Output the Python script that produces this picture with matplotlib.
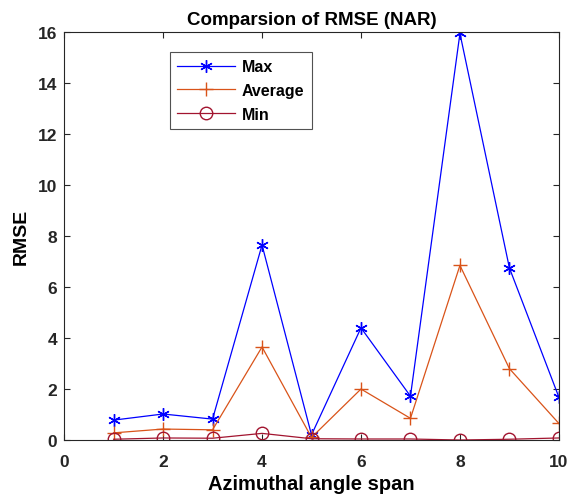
import matplotlib.pyplot as plt

plt.rcParams['font.family'] = ['Liberation Sans', 'DejaVu Sans']

span = [1, 2, 3, 4, 5, 6, 7, 8, 9, 10]
rmse_max = [0.78, 1.02, 0.82, 7.65, 0.2, 4.4, 1.72, 15.95, 6.75, 1.68]
rmse_avg = [0.28, 0.43, 0.40, 3.65, 0.1, 2.0, 0.85, 6.85, 2.8, 0.65]
rmse_min = [0.03, 0.08, 0.07, 0.26, 0.05, 0.04, 0.04, 0.0, 0.03, 0.08]

fig = plt.figure(figsize=(5.7, 5.02), dpi=100)
ax = fig.add_axes([0.1125, 0.1215, 0.868, 0.8125])

ax.plot(span, rmse_max, color=(0, 0, 1), marker=(6, 2, 0), markersize=9,
        linewidth=0.9, label='Max')
ax.plot(span, rmse_avg, color=(0.85, 0.325, 0.098), marker='+', markersize=10,
        linewidth=0.9, label='Average')
ax.plot(span, rmse_min, color=(0.635, 0.078, 0.184), marker='o', markersize=9,
        markerfacecolor='none', linewidth=0.9, label='Min')

ax.set_xlim(0, 10)
ax.set_ylim(0, 16)
ax.set_xticks(range(0, 11, 2))
ax.set_yticks(range(0, 17, 2))
ax.tick_params(direction='in', top=True, right=True, labelsize=12.5, width=0.8,
               length=4, colors='#262626', pad=5)
ax.tick_params(axis='x', pad=10)
for lbl in ax.get_xticklabels() + ax.get_yticklabels():
    lbl.set_fontweight('bold')
for s in ax.spines.values():
    s.set_color('#262626')
    s.set_linewidth(0.8)

ax.set_title('Comparsion of RMSE (NAR)', fontsize=13.5, fontweight='bold', pad=6)
ax.set_xlabel('Azimuthal angle span', fontsize=14.5, fontweight='bold', labelpad=4)
ax.set_ylabel('RMSE', fontsize=14, fontweight='bold', labelpad=6)

leg = ax.legend(loc='upper left', bbox_to_anchor=(0.214, 0.951), borderaxespad=0,
                fancybox=False, edgecolor='#262626',
                prop={'weight': 'bold', 'size': 11.5},
                handlelength=3.6, handletextpad=0.45, borderpad=0.45,
                labelspacing=0.55)
leg.get_frame().set_linewidth(0.8)

fig.savefig('out.png', dpi=100)
